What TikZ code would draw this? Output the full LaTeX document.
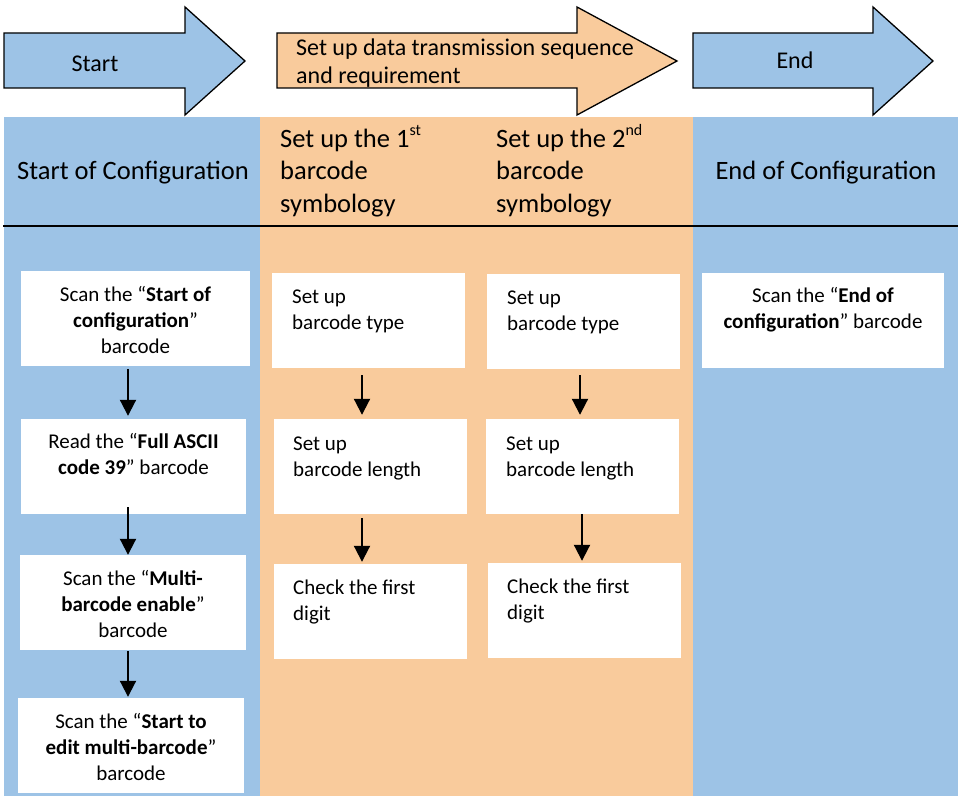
\documentclass[tikz,border=0pt]{standalone}
\usepackage{fontspec}
\setmainfont{Carlito}
\usetikzlibrary{arrows.meta}
\definecolor{cblue}{HTML}{9DC3E6}
\definecolor{corange}{HTML}{F9CB9C}
\newcommand{\fla}{\rule{0pt}{17pt}}
\newcommand{\flb}{\rule{0pt}{23pt}}
\newcommand{\flc}{\rule{0pt}{19pt}}
\newcommand{\supx}[1]{\raisebox{12pt}{\fontsize{16}{16}\selectfont #1}}
\begin{document}
\begin{tikzpicture}[x=1pt,y=-1pt,
 bigarrow/.style={draw=black, line width=1.3pt, line join=miter},
 wbox/.style={fill=white, draw=none, inner sep=0pt},
 boxtxt/.style={inner sep=0pt, font=\fontsize{21}{26}\selectfont},
 hdtxt/.style={inner sep=0pt, font=\fontsize{26.5}{32.5}\selectfont},
 artxt/.style={inner sep=0pt, font=\fontsize{24}{28.5}\selectfont},
 flow/.style={-{Triangle[length=16pt,width=16pt]}, line width=2pt, black}]
\useasboundingbox (0,0) rectangle (962,797);
\fill[white] (0,0) rectangle (962,797);

% columns
\fill[cblue] (4,117) rectangle (260,796);
\fill[corange] (260,117) rectangle (693,796);
\fill[cblue] (693,117) rectangle (958,796);
\draw[line width=2pt] (3,226) -- (958,226);

% top arrows
\draw[bigarrow, fill=cblue] (4,33) -- (185,33) -- (185,7) -- (245,61) -- (185,115) -- (185,88) -- (4,88) -- cycle;
\draw[bigarrow, fill=corange] (277,33) -- (577,33) -- (577,7) -- (677,61) -- (577,115) -- (577,88) -- (277,88) -- cycle;
\draw[bigarrow, fill=cblue] (693,33) -- (873,33) -- (873,7) -- (933,61) -- (873,115) -- (873,88) -- (693,88) -- cycle;
\node[artxt, anchor=north] (tstart) at (95,71-19) {\flc Start};
\node[artxt, anchor=north west, align=left] (tmid) at (296,55-19) {\flc Set up data transmission sequence\\and requirement};
\node[artxt, anchor=north] (tend) at (795,68-19) {\flc End};

% headers
\node[hdtxt, anchor=north] (h1) at (133,179-23) {\flb Start of Configuration};
\node[hdtxt, anchor=north west, align=left] (h2) at (280,147-23) {\flb Set up the 1\supx{st}\\barcode\\symbology};
\node[hdtxt, anchor=north west, align=left] (h3) at (496,147-23) {\flb Set up the 2\supx{nd}\\barcode\\symbology};
\node[hdtxt, anchor=north] (h4) at (826,179-23) {\flb End of Configuration};

% white boxes
\node[wbox, minimum width=229pt, minimum height=95pt] (b11) at (135.5,318.5) {};
\node[wbox, minimum width=225pt, minimum height=95pt] (b12) at (133.5,466.5) {};
\node[wbox, minimum width=226pt, minimum height=95pt] (b13) at (133,602.5) {};
\node[wbox, minimum width=226pt, minimum height=95pt] (b14) at (131,745.5) {};
\node[wbox, minimum width=193pt, minimum height=95pt] (b21) at (368.5,320.5) {};
\node[wbox, minimum width=193pt, minimum height=95pt] (b22) at (370.5,466.5) {};
\node[wbox, minimum width=193pt, minimum height=95pt] (b23) at (370.5,611.5) {};
\node[wbox, minimum width=193pt, minimum height=95pt] (b31) at (583.5,321.5) {};
\node[wbox, minimum width=193pt, minimum height=95pt] (b32) at (582.5,466.5) {};
\node[wbox, minimum width=193pt, minimum height=95pt] (b33) at (584.5,610.5) {};
\node[wbox, minimum width=242pt, minimum height=95pt] (b41) at (823,320.5) {};

% box texts
\node[boxtxt, anchor=north, align=center] (t11) at (135.5,301-17) {\fla Scan the “\textbf{Start of}\\\textbf{configuration}”\\barcode};
\node[boxtxt, anchor=north, align=center] (t12) at (133.5,448-17) {\fla Read the “\textbf{Full ASCII}\\\textbf{code 39}” barcode};
\node[boxtxt, anchor=north, align=center] (t13) at (133,585-17) {\fla Scan the “\textbf{Multi-}\\\textbf{barcode enable}”\\barcode};
\node[boxtxt, anchor=north, align=center] (t14) at (131,728-17) {\fla Scan the “\textbf{Start to}\\\textbf{edit multi-barcode}”\\barcode};
\node[boxtxt, anchor=north west, align=left] (t21) at (292,303-17) {\fla Set up\\barcode type};
\node[boxtxt, anchor=north west, align=left] (t22) at (293,450-17) {\fla Set up\\barcode length};
\node[boxtxt, anchor=north west, align=left] (t23) at (293,594-17) {\fla Check the first\\digit};
\node[boxtxt, anchor=north west, align=left] (t31) at (507,304-17) {\fla Set up\\barcode type};
\node[boxtxt, anchor=north west, align=left] (t32) at (506,450-17) {\fla Set up\\barcode length};
\node[boxtxt, anchor=north west, align=left] (t33) at (507,593-17) {\fla Check the first\\digit};
\node[boxtxt, anchor=north, align=center] (t41) at (823,302-17) {\fla Scan the “\textbf{End of}\\\textbf{configuration}” barcode};

% connectors
\coordinate (c1) at (128,0);
\coordinate (c2) at (362,0);
\coordinate (c3) at (580,0);
\coordinate (c3b) at (582,0);
\draw[flow, shorten <=3pt, shorten >=3pt] (b11.south -| c1) -- (b12.north -| c1);
\draw[flow, shorten <=-7pt] (b12.south -| c1) -- (b13.north -| c1);
\draw[flow, shorten <=1pt, shorten >=1pt] (b13.south -| c1) -- (b14.north -| c1);
\draw[flow, shorten <=7pt, shorten >=4pt] (b21.south -| c2) -- (b22.north -| c2);
\draw[flow, shorten <=4pt, shorten >=2pt] (b22.south -| c2) -- (b23.north -| c2);
\draw[flow, shorten <=6pt, shorten >=4pt] (b31.south -| c3) -- (b32.north -| c3);
\draw[flow, shorten <=0pt, shorten >=2pt] (b32.south -| c3b) -- (b33.north -| c3b);
\end{tikzpicture}
\end{document}
